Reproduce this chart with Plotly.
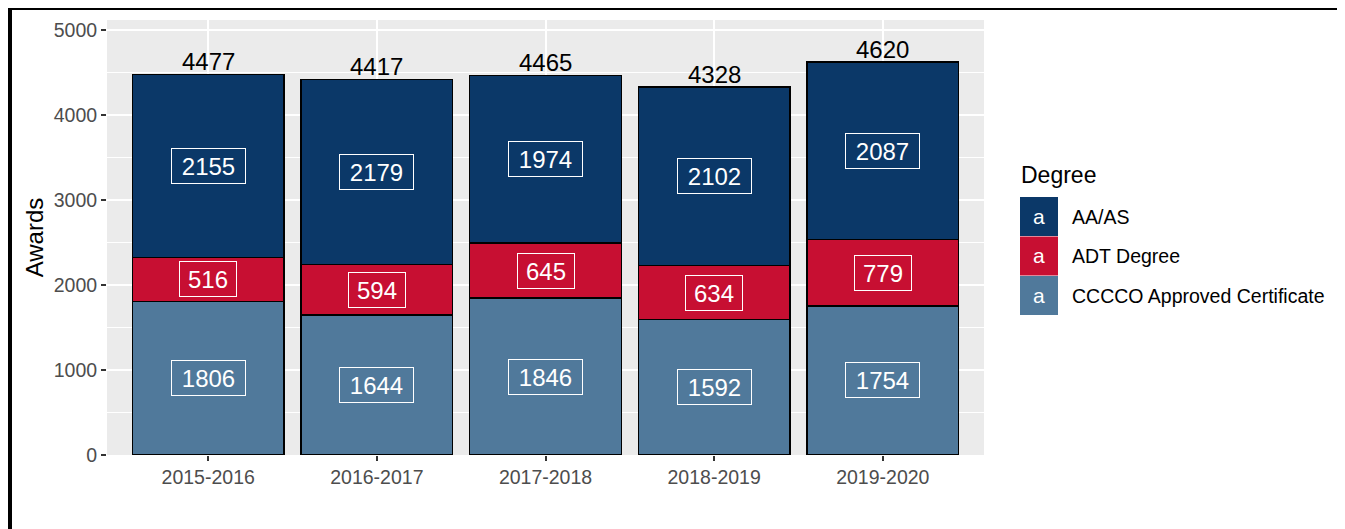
import plotly.graph_objects as go

years = ["2015-2016", "2016-2017", "2017-2018", "2018-2019", "2019-2020"]
cccco = [1806, 1644, 1846, 1592, 1754]
adt = [516, 594, 645, 634, 779]
aa_as = [2155, 2179, 1974, 2102, 2087]

series = [
    ("CCCCO Approved Certificate", cccco, "#50799B"),
    ("ADT Degree", adt, "#C70F32"),
    ("AA/AS", aa_as, "#0B3868"),
]

FONT = "Liberation Sans, Arial, sans-serif"

# page has an 8px body margin, so work in window pixels and shift
OFF = 8
W, H = 1345 - OFF, 529 - OFF
# plot panel in window pixels (used only for the frame and the legend)
L, R, T, B = 107, 984, 20, 455


def px_x(px):
    return (px - L) / (R - L)


def px_y(py):
    return (B - py) / (B - T)


fig = go.Figure()
for name, vals, col in series:
    fig.add_trace(go.Bar(
        x=years, y=vals, name=name,
        marker=dict(color=col, line=dict(color="black", width=1.5)),
        showlegend=False,
    ))

annotations = []
# segment labels at the middle of each stacked piece
base = [0] * len(years)
for name, vals, col in series:
    for i, v in enumerate(vals):
        annotations.append(dict(
            x=years[i], y=base[i] + v / 2, text=str(v), showarrow=False,
            font=dict(family=FONT, size=24, color="white"),
            bordercolor="white", borderwidth=1, borderpad=4,
            width=17 * len(str(v)) - 3, height=26,
        ))
        base[i] += v

# totals on top
for i, tot in enumerate(base):
    annotations.append(dict(
        x=years[i], y=tot, text=str(tot), showarrow=False,
        yanchor="bottom", yshift=-3,
        font=dict(family=FONT, size=24, color="black"),
    ))

# legend drawn by hand (ggplot style keys)
shapes = []
annotations.append(dict(
    xref="paper", yref="paper", x=px_x(1019), y=px_y(175), text="Degree",
    showarrow=False, xanchor="left", yanchor="middle",
    font=dict(family=FONT, size=23, color="black"),
))
key_top = 197
for name, vals, col in reversed(series):
    shapes.append(dict(
        type="rect", xref="paper", yref="paper", layer="above",
        x0=px_x(1020), x1=px_x(1058), y0=px_y(key_top + 39), y1=px_y(key_top),
        fillcolor=col, line=dict(width=0),
    ))
    annotations.append(dict(
        xref="paper", yref="paper", x=px_x(1039), y=px_y(key_top + 19),
        text="a", showarrow=False, xanchor="center", yanchor="middle",
        font=dict(family=FONT, size=21, color="white"),
    ))
    annotations.append(dict(
        xref="paper", yref="paper", x=px_x(1070), y=px_y(key_top + 19.5),
        text=name, showarrow=False, xanchor="left", yanchor="middle",
        font=dict(family=FONT, size=19.5, color="black"),
    ))
    key_top += 39.5

# black frame on the left and top edge of the image
shapes.append(dict(type="rect", xref="paper", yref="paper", layer="above",
                   x0=px_x(0), x1=px_x(12), y0=px_y(560), y1=px_y(6),
                   fillcolor="black", line=dict(width=0)))
shapes.append(dict(type="rect", xref="paper", yref="paper", layer="above",
                   x0=px_x(0), x1=px_x(1400), y0=px_y(10), y1=px_y(6),
                   fillcolor="black", line=dict(width=0)))

fig.update_layout(
    width=W, height=H,
    margin=dict(l=L - OFF, r=W - (R - OFF), t=T - OFF, b=H - (B - OFF)),
    barmode="stack", bargap=0.1,
    paper_bgcolor="white", plot_bgcolor="#EBEBEB",
    font=dict(family=FONT, color="#4D4D4D"),
    annotations=annotations, shapes=shapes,
    showlegend=False,
)
fig.update_xaxes(
    range=[-0.6, 4.6], showgrid=True, gridcolor="white", gridwidth=1.5,
    ticks="outside", ticklen=5, tickwidth=1.5, tickcolor="#333333",
    tickfont=dict(size=19.5, color="#4D4D4D"), showline=False, zeroline=False,
)
fig.update_yaxes(
    range=[0, 5115], tickvals=[0, 1000, 2000, 3000, 4000, 5000],
    showgrid=True, gridcolor="white", gridwidth=1.5,
    minor=dict(dtick=500, showgrid=True, gridcolor="white", gridwidth=0.7),
    ticks="outside", ticklen=5, tickwidth=1.5, tickcolor="#333333",
    tickfont=dict(size=19.5, color="#4D4D4D"), zeroline=False, showline=False,
    title=dict(text="Awards", standoff=3,
               font=dict(family=FONT, size=24, color="black")),
)

fig.write_html("out.html")
